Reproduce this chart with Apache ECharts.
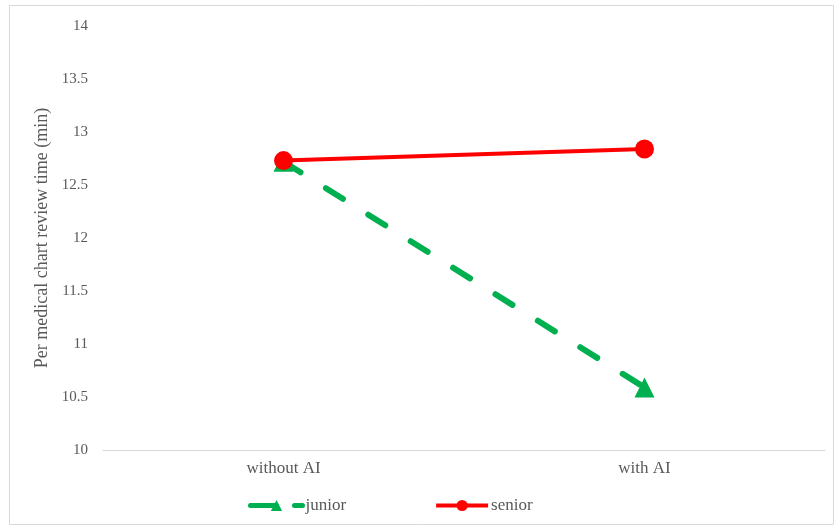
<!DOCTYPE html>
<html>
<head>
<meta charset="utf-8">
<script src="https://cdn.jsdelivr.net/npm/echarts@6/dist/echarts.min.js"></script>
<style>
  html, body { margin: 0; padding: 0; background: #fff; }
  #chart { width: 835px; height: 529px; }
</style>
</head>
<body>
<div id="chart"></div>
<script>
// Review time per medical chart, with and without AI assistance
const categories = ['without AI', 'with AI'];
const juniorTimes = [12.72, 10.59];
const seniorTimes = [12.73, 12.84];
const yTicks = { min: 10, max: 14, step: 0.5 };

const font = 'Liberation Serif, Times New Roman, serif';
const textColor = '#595959';
const green = '#00b050';
const red = '#ff0000';

const chart = echarts.init(document.getElementById('chart'));
chart.setOption({
  animation: false,
  backgroundColor: '#fff',
  graphic: [{
    type: 'rect',
    shape: { x: 9.5, y: 5.5, width: 824, height: 519 },
    style: { fill: 'none', stroke: '#d9d9d9', lineWidth: 1 },
    silent: true
  }],
  grid: { left: 103, right: 10, top: 26, bottom: 79 },
  legend: {
    data: [
      { name: 'junior', lineStyle: { width: 5, type: [26, 18], cap: 'round' } },
      { name: 'senior', lineStyle: { width: 4 } }
    ],
    left: 248,
    top: 497,
    padding: 0,
    itemWidth: 52,
    itemHeight: 14,
    itemGap: 88,
    textStyle: { fontFamily: font, fontSize: 17, color: textColor, padding: [0, 0, 0, -2] }
  },
  xAxis: {
    type: 'category',
    data: categories,
    axisLine: { lineStyle: { color: '#d9d9d9', width: 1 } },
    axisTick: { show: false },
    axisLabel: { fontFamily: font, fontSize: 17, color: textColor, margin: 10 }
  },
  yAxis: {
    type: 'value',
    min: yTicks.min,
    max: yTicks.max,
    interval: yTicks.step,
    name: 'Per medical chart review time (min)',
    nameLocation: 'middle',
    nameGap: 43,
    nameTextStyle: { fontFamily: font, fontSize: 18, color: textColor },
    axisLine: { show: false },
    axisTick: { show: false },
    splitLine: { show: false },
    axisLabel: { fontFamily: font, fontSize: 15, color: textColor, margin: 15 }
  },
  series: [
    {
      name: 'junior',
      type: 'line',
      data: juniorTimes,
      symbol: 'triangle',
      symbolSize: 20,
      itemStyle: { color: green },
      lineStyle: { color: green, width: 6, type: [20, 30], cap: 'round' },
      z: 2
    },
    {
      name: 'senior',
      type: 'line',
      data: seniorTimes,
      symbol: 'circle',
      symbolSize: 19,
      itemStyle: { color: red },
      lineStyle: { color: red, width: 4 },
      z: 3
    }
  ]
});
</script>
</body>
</html>
